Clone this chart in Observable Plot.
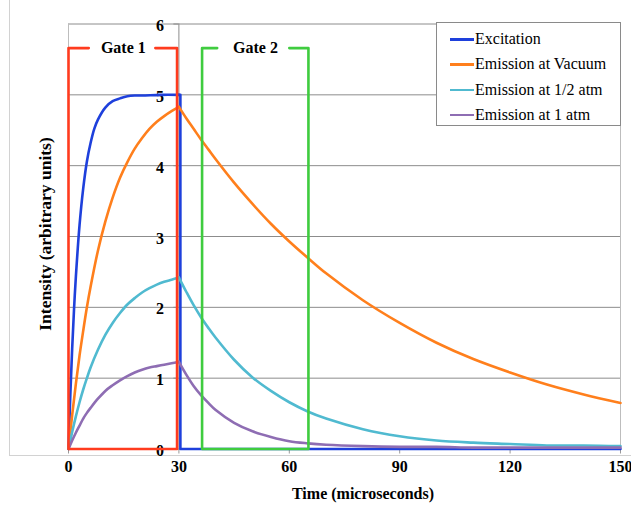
<!DOCTYPE html>
<html><head><meta charset="utf-8">
<script src="https://cdn.jsdelivr.net/npm/d3@7"></script>
<script src="https://cdn.jsdelivr.net/npm/@observablehq/plot@0.6"></script>
<style>
body{margin:0;background:#fff;}
#wrap{position:relative;width:631px;height:506px;overflow:hidden;background:#fff;font-family:"Liberation Serif","Times New Roman",serif;}
#outer{position:absolute;left:9px;top:-2px;width:630px;height:457px;border-left:1px solid #d2d2d2;border-bottom:1px solid #d2d2d2;}
#wrap svg{position:absolute;left:0;top:0;}
.ttl{position:absolute;font-family:"Liberation Serif","Times New Roman",serif;font-weight:bold;font-size:16px;color:#000;white-space:nowrap;}
#legend{position:absolute;left:436px;top:22px;width:183px;height:102px;background:#fff;border:1px solid #8a8a8a;font-family:"Liberation Serif","Times New Roman",serif;}
.li{position:absolute;left:0;height:20px;font-size:16px;white-space:nowrap;font-family:"Liberation Serif","Times New Roman",serif;font-weight:normal;color:#000;}
.li span.sw{position:absolute;left:13px;top:9px;width:24px;height:2.5px;}
.li span.tx{position:absolute;left:38px;top:0;line-height:20px;font-family:"Liberation Serif","Times New Roman",serif;}
</style></head><body><div id="wrap"><div id="outer"></div></div>
<script>
// ---- data ----
const seriesNames = ["Excitation", "Emission at Vacuum", "Emission at 1/2 atm", "Emission at 1 atm"];
const seriesColors = ["#1e40dc", "#ff7f1c", "#50bad0", "#8e6db3"];

const tExcRise = [0, 0.5, 1, 1.5, 2, 3, 4, 5, 6, 7, 8, 10, 12, 14, 16, 18, 20, 25, 30];
const excRise  = [0, 0.77, 1.42, 1.97, 2.43, 3.16, 3.68, 4.06, 4.32, 4.52, 4.65, 4.82, 4.91, 4.95, 4.98, 4.99, 4.99, 5, 5];
const tExcOff = [30, 30.4, 30.4, 150];
const excOff  = [5, 5, 0, 0];

const tRise = [0, 1, 2, 3, 4, 5, 6, 8, 10, 12, 14, 16, 18, 20, 22, 24, 26, 28, 30];
const vacuumRise = [0, 0.48, 0.92, 1.32, 1.67, 2.00, 2.29, 2.80, 3.21, 3.55, 3.83, 4.05, 4.24, 4.39, 4.52, 4.62, 4.70, 4.77, 4.83];
const halfRise   = [0, 0.24, 0.46, 0.66, 0.84, 1.00, 1.15, 1.40, 1.61, 1.78, 1.92, 2.04, 2.13, 2.21, 2.27, 2.32, 2.36, 2.39, 2.42];
const oneRise    = [0, 0.12, 0.23, 0.33, 0.43, 0.51, 0.58, 0.71, 0.82, 0.90, 0.97, 1.03, 1.08, 1.12, 1.15, 1.17, 1.19, 1.21, 1.23];

const tDecay = [30, 32, 34, 36, 38, 40, 45, 50, 55, 60, 65, 70, 80, 90, 100, 110, 120, 130, 140, 150];
const vacuumDecay = [4.83, 4.67, 4.52, 4.37, 4.23, 4.09, 3.76, 3.46, 3.18, 2.93, 2.70, 2.48, 2.10, 1.78, 1.50, 1.27, 1.08, 0.91, 0.77, 0.65];
const halfDecay   = [2.42, 2.22, 2.03, 1.86, 1.71, 1.57, 1.26, 1.01, 0.82, 0.66, 0.53, 0.43, 0.28, 0.18, 0.12, 0.09, 0.07, 0.05, 0.05, 0.04];
const oneDecay    = [1.23, 1.05, 0.89, 0.76, 0.65, 0.55, 0.37, 0.25, 0.17, 0.11, 0.08, 0.06, 0.04, 0.03, 0.03, 0.02, 0.02, 0.02, 0.02, 0.02];

const gateNames = ["Gate 1", "Gate 2"];
const gateColors = ["#ff3b1e", "#3fcc3f"];
const gate1X = [5.5, 0, 0, 29.5, 29.5, 23.6];
const gate2X = [40.4, 36.3, 36.3, 65.2, 65.2, 60.0];
const gateY  = [5.66, 5.66, 0, 0, 5.66, 5.66];
const gateLabelX = [14.9, 50.8];
const gateLabelY = [5.66, 5.66];

const xTicks = [0, 30, 60, 90, 120, 150];
const yTicks = [0, 1, 2, 3, 4, 5, 6];
const yAxisAt = 30;
const xTitle = "Time (microseconds)";
const yTitle = "Intensity (arbitrary units)";

// ---- build ----
const pts = (ts, vs) => ts.map((t, i) => ({t, v: vs[i]}));
const W = 631, H = 506, mL = 68, mR = 11, mT = 23.5, mB = 57.5;
const lw = 2.6;
const line = (d, c, curve) => Plot.line(d, {x: "t", y: "v", stroke: c, strokeWidth: lw, curve, strokeLinejoin: "round"});

const plot = Plot.plot({
  width: W, height: H, marginLeft: mL, marginRight: mR, marginTop: mT, marginBottom: mB,
  x: {domain: [0, 150]},
  y: {domain: [0, 6]},
  style: {fontFamily: "'Liberation Serif','Times New Roman',serif", fontSize: "16px", fontWeight: "bold", background: "transparent", overflow: "visible", color: "#000"},
  marks: [
    Plot.ruleY(yTicks, {stroke: "#8c8c8c", strokeWidth: 1}),
    Plot.ruleX([0, 150], {stroke: "#bdbdbd", strokeWidth: 1}),
    Plot.ruleX([yAxisAt], {stroke: "#8c8c8c", strokeWidth: 1}),
    Plot.ruleY(yTicks, {x1: yAxisAt, x2: yAxisAt, insetLeft: -5, stroke: "#8c8c8c"}),
    Plot.text(yTicks, {x: yAxisAt, y: d => d, dx: -15, dy: 2, textAnchor: "end", text: d => String(d), fill: "#000"}),
    Plot.axisX({ticks: xTicks, tickSize: 5, tickPadding: 7, label: null, stroke: "#9a9a9a", fill: "#000"}),
    Plot.axisY({ticks: [], label: null}),
    line(pts(tExcRise, excRise), seriesColors[0], "catmull-rom"),
    line(pts(tExcOff, excOff), seriesColors[0], "linear"),
    line(pts(tRise, vacuumRise), seriesColors[1], "catmull-rom"),
    line(pts(tDecay, vacuumDecay), seriesColors[1], "catmull-rom"),
    line(pts(tRise, halfRise), seriesColors[2], "catmull-rom"),
    line(pts(tDecay, halfDecay), seriesColors[2], "catmull-rom"),
    line(pts(tRise, oneRise), seriesColors[3], "catmull-rom"),
    line(pts(tDecay, oneDecay), seriesColors[3], "catmull-rom"),
    Plot.line(pts(gate1X, gateY), {x: "t", y: "v", stroke: gateColors[0], strokeWidth: lw, curve: "linear"}),
    Plot.line(pts(gate2X, gateY), {x: "t", y: "v", stroke: gateColors[1], strokeWidth: lw, curve: "linear"}),
    Plot.text(gateNames, {x: (d, i) => gateLabelX[i], y: (d, i) => gateLabelY[i], text: d => d, fill: "#000", dy: 0})
  ]
});
const wrap = document.getElementById("wrap");
wrap.appendChild(plot);

// titles
const xt = document.createElement("div");
xt.className = "ttl"; xt.textContent = xTitle;
xt.style.left = "363px"; xt.style.top = "494px"; xt.style.transform = "translate(-50%,-50%)";
wrap.appendChild(xt);
const yt = document.createElement("div");
yt.className = "ttl"; yt.textContent = yTitle;
yt.style.fontSize = "17.5px";
yt.style.left = "45px"; yt.style.top = "234px"; yt.style.transform = "translate(-50%,-50%) rotate(-90deg)";
wrap.appendChild(yt);

// legend
const lg = document.createElement("div");
lg.id = "legend";
seriesNames.forEach((n, i) => {
  const it = document.createElement("div");
  it.className = "li";
  it.style.top = (6 + i * 25.3) + "px";
  it.innerHTML = `<span class="sw" style="background:${seriesColors[i]}"></span><span class="tx"></span>`;
  it.querySelector(".tx").textContent = n;
  lg.appendChild(it);
});
wrap.appendChild(lg);
</script></body></html>
